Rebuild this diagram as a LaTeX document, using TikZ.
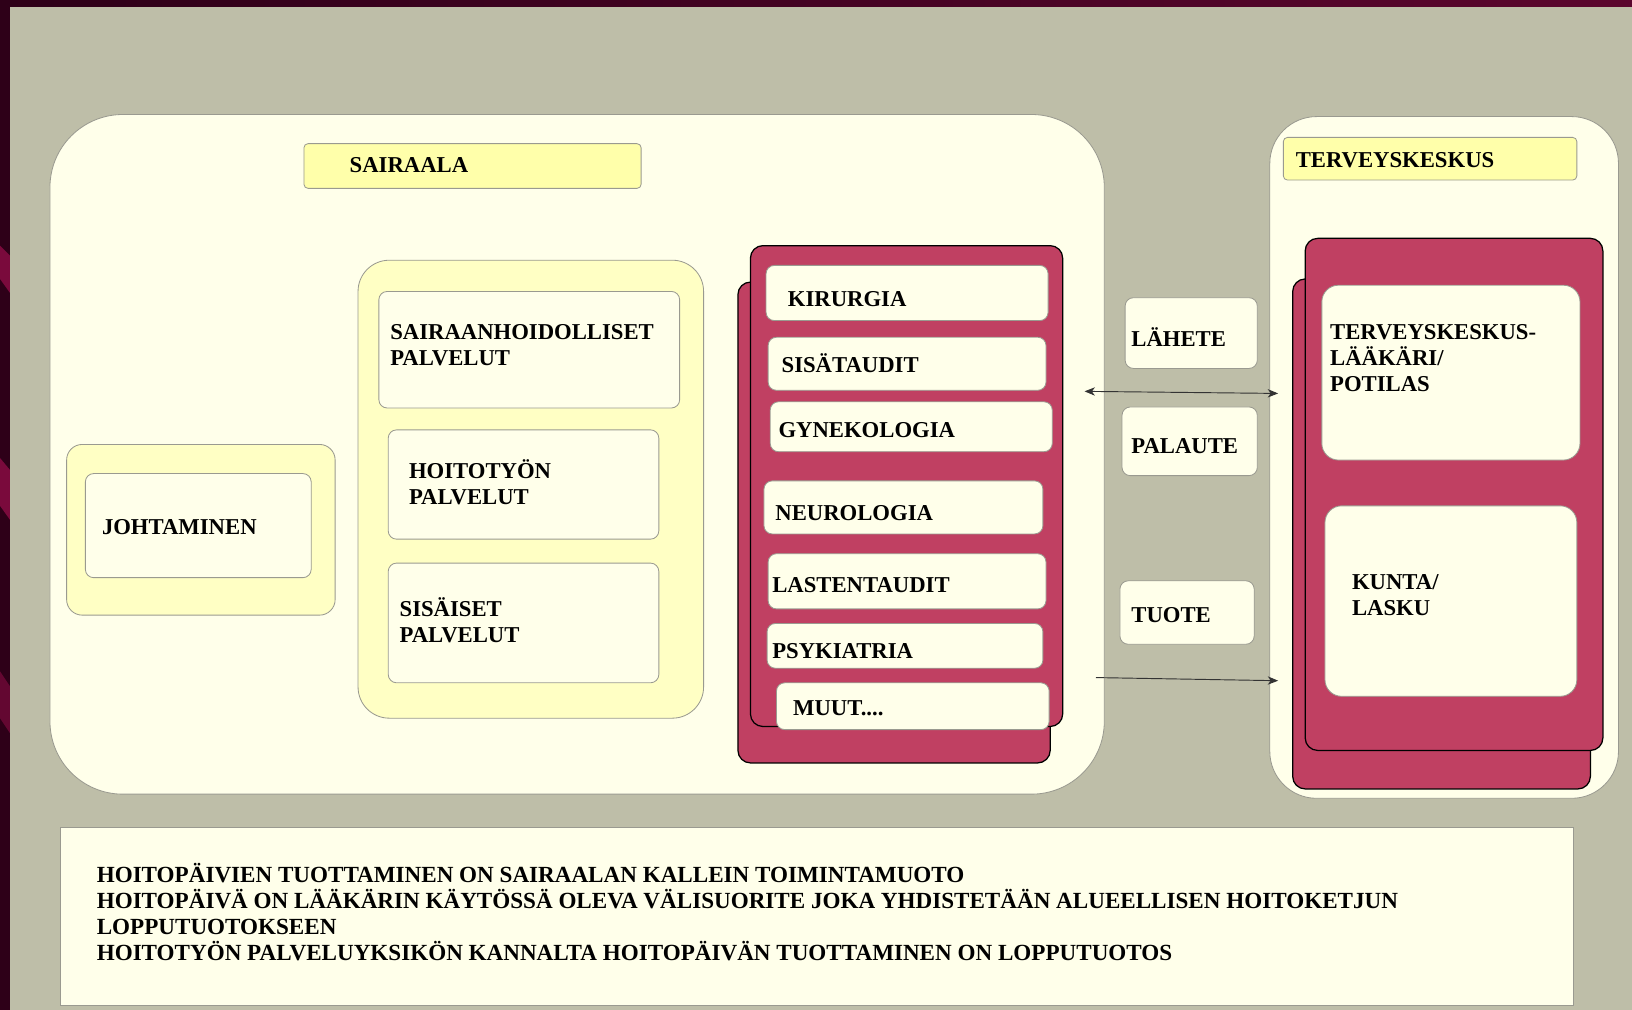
\documentclass[tikz,border=0pt]{standalone}
\usepackage{fontspec}
\setmainfont{Liberation Serif}
\usetikzlibrary{arrows.meta}
\definecolor{slidebg}{HTML}{2E0018}
\definecolor{slidewave}{HTML}{7A0A3C}
\definecolor{panel}{HTML}{BEBEA8}
\definecolor{cream}{HTML}{FFFFEA}
\definecolor{label}{HTML}{FFFFAA}
\definecolor{holder}{HTML}{FFFFC4}
\definecolor{crimson}{HTML}{C04062}
\definecolor{edge}{HTML}{9A9A90}
\tikzset{
  area/.style={draw=edge, fill=cream, line width=0.8pt, anchor=north west},
  holderbox/.style={draw=edge, fill=holder, line width=0.8pt, anchor=north west},
  titlebox/.style={draw=edge, fill=label, line width=0.8pt, rounded corners=4pt, anchor=north west},
  unitbox/.style={draw=edge, fill=cream, line width=0.8pt, rounded corners=8pt, anchor=north west},
  sheet/.style={draw=black, fill=crimson, line width=1.2pt, rounded corners=12pt, anchor=north west},
  txt/.style={anchor=base west, align=left, font=\bfseries\fontsize{21.8}{25}\selectfont},
  flow/.style={draw=black!80, line width=0.9pt}
}
\begin{document}
\begin{tikzpicture}[x=1pt,y=-1pt]
\tikzstyle{every node}+=[inner sep=0pt, outer sep=0pt]
\useasboundingbox (0,0) rectangle (1568,970);
\fill[slidebg] (0,0) rectangle (1568,970);
\shade[left color=slidebg, right color=slidewave!60!slidebg] (0,0) rectangle (1568,7);
\fill[slidewave] (0,236) -- (10,246) -- (10,282) -- (0,268) -- cycle;
\fill[slidewave] (0,440) -- (10,452) -- (10,500) -- (0,486) -- cycle;
\fill[slidewave!70!slidebg] (0,645) -- (10,660) -- (10,705) -- (0,690) -- cycle;
\fill[panel] (10,7) rectangle (1568,970);

\node[area, rounded corners=70pt, minimum width=1013pt, minimum height=653pt] (sairaala) at (48,110) {};
\node[titlebox, minimum width=324pt, minimum height=43pt] (sairaalaotsikko) at (292,138) {};
\node[txt] (sairaalat) at (336,166) {SAIRAALA};

\node[holderbox, rounded corners=15pt, minimum width=258pt, minimum height=164pt] (johtoalue) at (64,427) {};
\node[unitbox, minimum width=217pt, minimum height=100pt] (johto) at (82,455) {};
\node[txt] (johtot) at (98,514) {JOHTAMINEN};

\node[holderbox, rounded corners=30pt, minimum width=332pt, minimum height=440pt] (palvelut) at (344,250) {};
\node[unitbox, minimum width=289pt, minimum height=112pt] (sairaanh) at (364,280) {};
\node[txt] (sairaanht) at (375,351) {SAIRAANHOIDOLLISET\\PALVELUT};
\node[unitbox, minimum width=260pt, minimum height=105pt] (hoitotyo) at (373,413) {};
\node[txt] (hoitotyot) at (393,485) {HOITOTYÖN\\PALVELUT};
\node[unitbox, minimum width=260pt, minimum height=115pt] (sisaiset) at (373,541) {};
\node[txt] (sisaisett) at (384,617) {SISÄISET\\PALVELUT};

\node[sheet, minimum width=300pt, minimum height=462pt] (klinikatB) at (709,271) {};
\node[sheet, minimum width=300pt, minimum height=462pt] (klinikatA) at (721,236) {};
\node[unitbox, minimum width=271pt, minimum height=53pt] (kirurgia) at (736,255) {};
\node[txt] (kirurgiat) at (757,294) {KIRURGIA};
\node[unitbox, minimum width=267pt, minimum height=51pt] (sisataudit) at (738,324) {};
\node[txt] (sisatauditt) at (751,358) {SISÄTAUDIT};
\node[unitbox, minimum width=271pt, minimum height=48pt] (gynekologia) at (740,386) {};
\node[txt] (gynekologiat) at (748,420) {GYNEKOLOGIA};
\node[unitbox, minimum width=268pt, minimum height=51pt] (neurologia) at (734,462) {};
\node[txt] (neurologiat) at (745,500) {NEUROLOGIA};
\node[unitbox, minimum width=267pt, minimum height=53pt] (lastentaudit) at (738,532) {};
\node[txt] (lastentauditt) at (742,569) {LASTENTAUDIT};
\node[unitbox, minimum width=265pt, minimum height=43pt] (psykiatria) at (737,599) {};
\node[txt] (psykiatriat) at (742,633) {PSYKIATRIA};
\node[unitbox, minimum width=262pt, minimum height=45pt] (muut) at (746,656) {};
\node[txt] (muutt) at (762,687) {MUUT....};

\node[unitbox, minimum width=127pt, minimum height=68pt] (lahete) at (1081,286) {};
\node[txt] (lahetet) at (1087,333) {LÄHETE};
\node[unitbox, minimum width=130pt, minimum height=66pt] (palaute) at (1078,391) {};
\node[txt] (palautet) at (1087,436) {PALAUTE};
\node[unitbox, minimum width=129pt, minimum height=61pt] (tuote) at (1076,558) {};
\node[txt] (tuotet) at (1087,598) {TUOTE};

\node[area, rounded corners=45pt, minimum width=335pt, minimum height=655pt] (terveys) at (1220,112) {};
\node[titlebox, minimum width=282pt, minimum height=41pt] (terveysotsikko) at (1233,132) {};
\node[txt] (terveysotsikkot) at (1245,161) {TERVEYSKESKUS};
\node[sheet, minimum width=286pt, minimum height=490pt] (tkB) at (1242,268) {};
\node[sheet, minimum width=286pt, minimum height=492pt] (tkA) at (1254,229) {};
\node[unitbox, rounded corners=16pt, minimum width=248pt, minimum height=168pt] (laakari) at (1270,274) {};
\node[txt] (laakarit) at (1278,376) {TERVEYSKESKUS-\\LÄÄKÄRI/\\POTILAS};
\node[unitbox, rounded corners=16pt, minimum width=242pt, minimum height=183pt] (kunta) at (1273,486) {};
\node[txt] (kuntat) at (1299,591) {KUNTA/\\LASKU};

\coordinate (laheteL) at (1042,376);
\coordinate (laheteR) at (1228,378);
\coordinate (tuoteL) at (1053,651);
\coordinate (tuoteR) at (1228,654);
\draw[flow, {Stealth[length=10pt,width=8pt,inset=3pt]}-{Stealth[length=10pt,width=8pt,inset=3pt]}] (laheteL) -- (laheteR);
\draw[flow, -{Stealth[length=10pt,width=8pt,inset=3pt]}] (tuoteL) -- (tuoteR);

\node[area, rounded corners=0pt, minimum width=1454pt, minimum height=171pt] (yhteenveto) at (58,795) {};
\node[txt, font=\bfseries\fontsize{22.2}{25}\selectfont] (yhteenvetot) at (93,923) {HOITOPÄIVIEN TUOTTAMINEN ON SAIRAALAN KALLEIN TOIMINTAMUOTO\\HOITOPÄIVÄ ON LÄÄKÄRIN KÄYTÖSSÄ OLEVA VÄLISUORITE JOKA YHDISTETÄÄN ALUEELLISEN HOITOKETJUN\\LOPPUTUOTOKSEEN\\HOITOTYÖN PALVELUYKSIKÖN KANNALTA HOITOPÄIVÄN TUOTTAMINEN ON LOPPUTUOTOS};
\end{tikzpicture}
\end{document}
